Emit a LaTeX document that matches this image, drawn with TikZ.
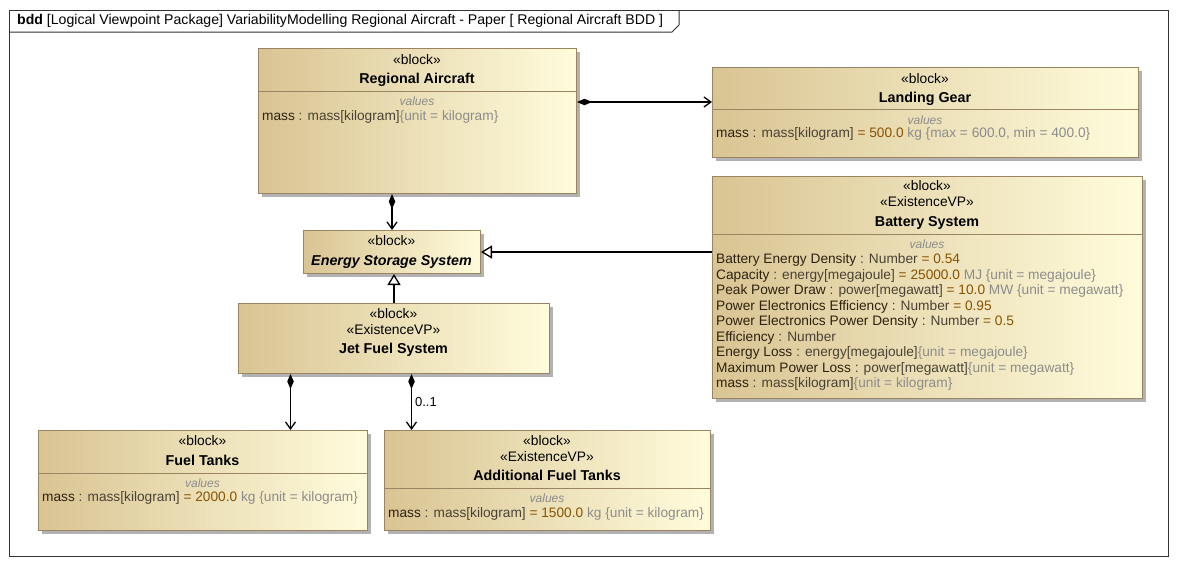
\documentclass[tikz,border=0pt]{standalone}
\usepackage{fontspec}
\setmainfont{Liberation Sans}
\usetikzlibrary{arrows.meta,shadows}
\definecolor{tanL}{HTML}{D9C493}
\definecolor{creamR}{HTML}{FFFCDC}
\definecolor{bordc}{HTML}{9A8461}
\definecolor{namec}{HTML}{2E220F}
\definecolor{typec}{HTML}{4A4234}
\definecolor{valc}{HTML}{8A5200}
\definecolor{grayc}{HTML}{8C8C8C}
\definecolor{framec}{HTML}{333333}
\newcommand{\nmx}[1]{\textcolor{namec}{#1}}
\newcommand{\tpx}[1]{\textcolor{typec}{#1}}
\newcommand{\vlx}[1]{\textcolor{valc}{#1}}
\newcommand{\grx}[1]{\textcolor{grayc}{#1}}
\tikzset{
  blk/.style={draw=bordc, line width=1pt, left color=tanL, right color=creamR,
    drop shadow={shadow xshift=3pt, shadow yshift=-3pt, fill=black, opacity=0.3},
    inner sep=0, anchor=north west},
  attr/.style={anchor=west, inner sep=0, font=\fontsize{13.7}{16}\selectfont, text height=10pt, text depth=3pt},
  ttl/.style={inner sep=0, font=\fontsize{14.3}{16}\selectfont\bfseries, text height=10pt, text depth=3pt},
  ster/.style={inner sep=0, font=\fontsize{13.8}{16}\selectfont, text height=10pt, text depth=3pt},
  vals/.style={inner sep=0, font=\fontsize{12}{14}\selectfont\itshape, text=grayc, text height=8.5pt, text depth=2.5pt},
  div/.style={draw=bordc, line width=1pt},
  comp/.style={draw=black, line width=1.3pt, {Diamond[length=15pt,width=6.5pt]}-{Straight Barb[length=7pt,width=10pt]}},
  gen/.style={draw=black, line width=1.3pt, -{Triangle[open,length=11pt,width=13pt,fill=white]}}
}
\begin{document}
\begin{tikzpicture}[x=1pt,y=-1pt]
\useasboundingbox (0,0) rectangle (1182,568);
% frame
\node[draw=framec, line width=1pt, minimum width=1159pt, minimum height=546pt, anchor=north west, inner sep=0] (frame) at (9,10) {};
\draw[framec, line width=1pt] (9,32) -- (672,32) -- (679,25) -- (679,10);
\node[anchor=west, inner sep=0, font=\fontsize{14.1}{16}\selectfont] (hdr) at (17,21) {\textbf{bdd} [Logical Viewpoint Package] VariabilityModelling Regional Aircraft - Paper [ Regional Aircraft BDD ]};

% Regional Aircraft
\node[blk, minimum width=318pt, minimum height=145pt] (ra) at (258,48) {};
\node[ster] (ra-s) at (417,61) {«block»};
\node[ttl] (ra-t) at (417,80) {Regional Aircraft};
\draw[div] ([yshift=-43pt]ra.north west) -- ([yshift=-43pt]ra.north east);
\node[vals] (ra-v) at (417,102) {values};
\node[attr] (ra-a1) at (262,117) {\nmx{mass} \tpx{: mass[kilogram]}\grx{\{unit = kilogram\}}};

% Landing Gear
\node[blk, minimum width=426pt, minimum height=90pt] (lg) at (712,67) {};
\node[ster] (lg-s) at (925,80) {«block»};
\node[ttl] (lg-t) at (925,99) {Landing Gear};
\draw[div] ([yshift=-42pt]lg.north west) -- ([yshift=-42pt]lg.north east);
\node[vals] (lg-v) at (925,121) {values};
\node[attr] (lg-a1) at (716,134) {\nmx{mass} \tpx{: mass[kilogram]} \vlx{= 500.0} \grx{kg \{max = 600.0, min = 400.0\}}};

% Battery System
\node[blk, minimum width=430pt, minimum height=222pt] (bs) at (712,176) {};
\node[ster] (bs-s1) at (927,187) {«block»};
\node[ster] (bs-s2) at (927,203) {«ExistenceVP»};
\node[ttl] (bs-t) at (927,223) {Battery System};
\draw[div] ([yshift=-58pt]bs.north west) -- ([yshift=-58pt]bs.north east);
\node[vals] (bs-v) at (927,245) {values};
\node[attr] (bs-a1) at (716,260) {\nmx{Battery Energy Density} \tpx{: Number} \vlx{= 0.54}};
\node[attr] (bs-a2) at (716,275.5) {\nmx{Capacity} \tpx{: energy[megajoule]} \vlx{= 25000.0} \grx{MJ \{unit = megajoule\}}};
\node[attr] (bs-a3) at (716,291) {\nmx{Peak Power Draw} \tpx{: power[megawatt]} \vlx{= 10.0} \grx{MW \{unit = megawatt\}}};
\node[attr] (bs-a4) at (716,306.5) {\nmx{Power Electronics Efficiency} \tpx{: Number} \vlx{= 0.95}};
\node[attr] (bs-a5) at (716,322) {\nmx{Power Electronics Power Density} \tpx{: Number} \vlx{= 0.5}};
\node[attr] (bs-a6) at (716,337.5) {\nmx{Efficiency} \tpx{: Number}};
\node[attr] (bs-a7) at (716,353) {\nmx{Energy Loss} \tpx{: energy[megajoule]}\grx{\{unit = megajoule\}}};
\node[attr] (bs-a8) at (716,368.5) {\nmx{Maximum Power Loss} \tpx{: power[megawatt]}\grx{\{unit = megawatt\}}};
\node[attr] (bs-a9) at (716,384) {\nmx{mass} \tpx{: mass[kilogram]}\grx{\{unit = kilogram\}}};

% Energy Storage System
\node[blk, minimum width=177pt, minimum height=43pt] (ess) at (303,230) {};
\node[ster] (ess-s) at (391.5,242) {«block»};
\node[ttl, font=\fontsize{14.3}{16}\selectfont\bfseries\itshape] (ess-t) at (391.5,262) {Energy Storage System};

% Jet Fuel System
\node[blk, minimum width=311pt, minimum height=70pt] (jfs) at (238,303) {};
\node[ster] (jfs-s1) at (393.5,315) {«block»};
\node[ster] (jfs-s2) at (393.5,331) {«ExistenceVP»};
\node[ttl] (jfs-t) at (393.5,350) {Jet Fuel System};

% Fuel Tanks
\node[blk, minimum width=329pt, minimum height=100pt] (ft) at (38,430) {};
\node[ster] (ft-s) at (202.5,442) {«block»};
\node[ttl] (ft-t) at (202.5,462) {Fuel Tanks};
\draw[div] ([yshift=-43pt]ft.north west) -- ([yshift=-43pt]ft.north east);
\node[vals] (ft-v) at (202.5,484) {values};
\node[attr] (ft-a1) at (42,498) {\nmx{mass} \tpx{: mass[kilogram]} \vlx{= 2000.0} \grx{kg \{unit = kilogram\}}};

% Additional Fuel Tanks
\node[blk, minimum width=326pt, minimum height=100pt] (aft) at (384,430) {};
\node[ster] (aft-s1) at (547,442) {«block»};
\node[ster] (aft-s2) at (547,458) {«ExistenceVP»};
\node[ttl] (aft-t) at (547,477) {Additional Fuel Tanks};
\draw[div] ([yshift=-58pt]aft.north west) -- ([yshift=-58pt]aft.north east);
\node[vals] (aft-v) at (547,499) {values};
\node[attr] (aft-a1) at (388,514) {\nmx{mass} \tpx{: mass[kilogram]} \vlx{= 1500.0} \grx{kg \{unit = kilogram\}}};

% connectors
\draw[comp] ([yshift=-54pt]ra.north east) -- ([yshift=-35pt]lg.north west);
\draw[comp] (ra.south -| ess.north) -- (ess.north);
\draw[gen] (bs.west |- ess.east) -- (ess.east);
\draw[gen] (jfs.north) -- (jfs.north |- ess.south);
\coordinate (j1) at ([xshift=-103.5pt]jfs.south);
\coordinate (j2) at ([xshift=17.5pt]jfs.south);
\draw[comp] (j1) -- (j1 |- ft.north);
\draw[comp] (j2) -- (j2 |- aft.north) node[pos=0.5, anchor=west, xshift=3pt, inner sep=0, font=\fontsize{13}{15}\selectfont] (mult) {0..1};
\end{tikzpicture}
\end{document}
